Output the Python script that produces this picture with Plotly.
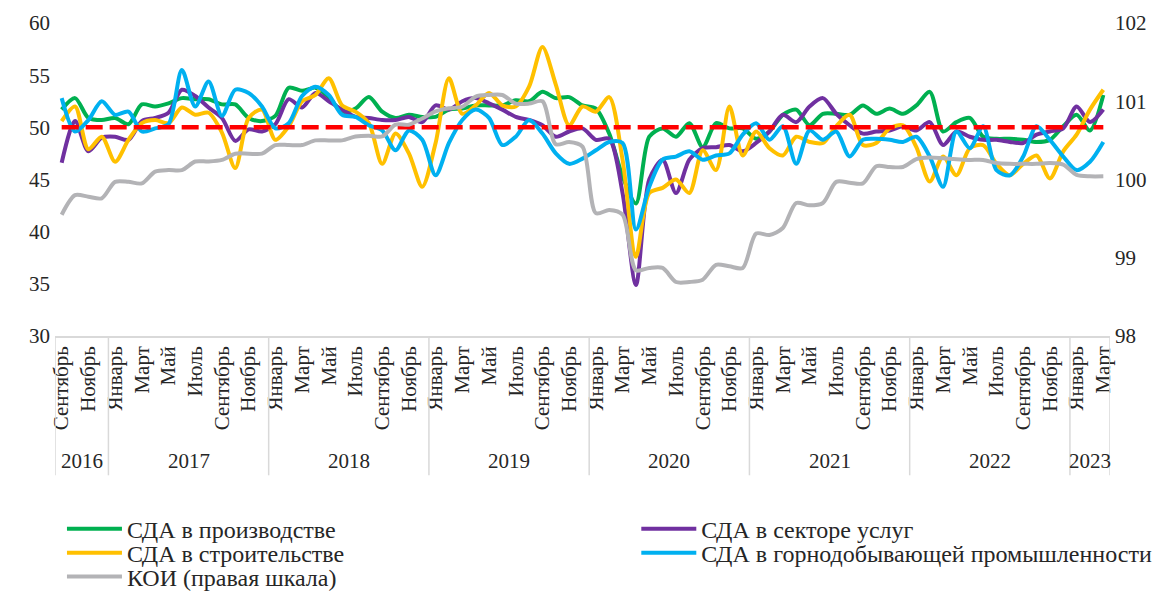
import plotly.graph_objects as go

# ---- categories ----
month_names = ["Январь", "Февраль", "Март", "Апрель", "Май", "Июнь",
               "Июль", "Август", "Сентябрь", "Октябрь", "Ноябрь", "Декабрь"]
start_year, start_month = 2016, 9
end_year, end_month = 2023, 3

years = []
months = []
y_, m_ = start_year, start_month
while (y_, m_) <= (end_year, end_month):
    years.append(y_)
    months.append(month_names[m_ - 1])
    m_ += 1
    if m_ > 12:
        m_ = 1
        y_ += 1
x_idx = list(range(len(months)))

# ---- series values ----
pmi_manufacturing = [
    51.7, 52.8, 50.9, 50.7, 50.9, 50.3, 52.2, 52.0, 52.3, 52.8, 52.7, 52.7,
    52.2, 52.2, 50.9, 50.6, 51.1, 53.8, 53.5, 53.8, 52.9, 51.5, 51.8, 52.9,
    51.5, 50.9, 51.2, 51.0, 51.0, 51.7, 51.8, 52.1, 52.1, 52.1, 52.6, 52.5,
    53.4, 52.8, 52.9, 52.1, 51.8, 49.4, 45.3, 42.7, 49.1, 49.9, 49.1, 50.4,
    48.1, 50.4, 49.9, 49.9, 48.9, 49.6, 51.2, 51.7, 50.2, 51.3, 51.3, 51.2,
    52.1, 51.3, 51.8, 51.3, 52.1, 53.4, 49.6, 50.5, 50.9, 49.1, 48.9, 48.9,
    48.8, 48.6, 48.8, 50.1, 51.2, 49.7, 53.1]
pmi_services = [
    46.6, 50.6, 47.7, 49.0, 49.1, 48.8, 50.6, 50.9, 51.4, 53.6, 53.0, 51.9,
    50.9, 48.7, 49.8, 49.6, 50.3, 52.7, 51.9, 53.3, 52.5, 51.7, 51.0, 50.9,
    50.7, 50.7, 51.0, 50.5, 52.1, 51.7, 52.5, 52.8, 52.3, 51.7, 51.0, 50.7,
    50.2, 49.1, 49.6, 49.9, 48.8, 48.9, 43.7, 34.9, 45.0, 46.9, 43.7, 46.9,
    48.0, 48.1, 48.3, 47.7, 48.5, 49.6, 51.2, 50.5, 52.0, 52.8, 51.3, 50.2,
    49.4, 49.6, 49.7, 50.1, 49.7, 50.5, 48.3, 49.6, 49.1, 48.8, 48.8, 48.6,
    48.5, 49.3, 49.6, 49.9, 52.0, 50.5, 51.7]
pmi_construction = [
    50.6, 52.0, 47.9, 49.1, 46.7, 48.8, 50.4, 50.7, 50.4, 51.9, 51.2, 51.4,
    49.5, 46.1, 50.9, 51.7, 48.8, 50.1, 52.5, 53.1, 54.7, 52.1, 51.5, 50.4,
    46.5, 49.4, 47.5, 44.3, 48.5, 54.7, 51.3, 52.1, 53.3, 52.1, 52.0, 53.9,
    57.7, 54.1, 50.2, 52.0, 51.5, 52.9, 46.9, 37.6, 43.7, 44.2, 45.0, 43.7,
    47.8, 45.9, 52.0, 47.3, 49.6, 48.0, 47.3, 49.1, 48.6, 48.5, 50.1, 51.2,
    48.3, 48.5, 49.9, 50.2, 48.1, 44.8, 47.2, 45.4, 48.0, 48.3, 46.5, 45.4,
    46.5, 47.3, 45.1, 47.7, 49.3, 51.7, 53.6]
pmi_mining = [
    52.8, 49.6, 50.7, 52.5, 51.2, 51.5, 49.6, 49.9, 50.3, 55.5, 52.0, 54.4,
    51.1, 53.6, 53.3, 52.0, 49.9, 50.4, 53.0, 53.9, 53.1, 51.2, 51.0, 50.2,
    49.7, 47.8, 49.7, 48.8, 45.4, 48.5, 50.7, 51.7, 50.9, 48.3, 49.1, 50.7,
    49.4, 47.5, 46.5, 47.0, 47.8, 48.6, 48.5, 40.2, 44.3, 46.9, 47.2, 47.7,
    46.9, 47.3, 47.5, 49.3, 50.4, 48.8, 50.1, 46.5, 49.7, 48.8, 49.6, 47.2,
    48.8, 48.9, 48.8, 48.6, 49.1, 47.2, 44.3, 49.6, 48.0, 50.1, 45.9, 45.4,
    47.2, 50.1, 48.8, 47.2, 45.9, 46.7, 48.6]
koi_right = [
    99.55, 99.80, 99.78, 99.76, 99.97, 99.97, 99.95, 100.10, 100.12, 100.12,
    100.23, 100.23, 100.25, 100.33, 100.33, 100.33, 100.44, 100.44, 100.44,
    100.50, 100.50, 100.50, 100.55, 100.56, 100.55, 100.70, 100.70, 100.78,
    100.87, 100.91, 100.93, 101.06, 101.08, 101.08, 100.97, 100.97, 101.00,
    100.45, 100.48, 100.42, 99.57, 99.61, 99.55, 98.84, 98.87, 98.87, 98.69,
    98.69, 98.72, 98.91, 98.89, 98.87, 99.31, 99.29, 99.38, 99.70, 99.67,
    99.70, 99.97, 99.96, 99.95, 100.17, 100.16, 100.16, 100.26, 100.28,
    100.27, 100.26, 100.25, 100.25, 100.21, 100.20, 100.20, 100.20, 100.21,
    100.19, 100.06, 100.04, 100.04]
threshold_level = 50

# ---- tick labels (every other month) ----
tick_vals = x_idx[::2]
tick_text = months[::2]

names = ["СДА в производстве", "СДА в секторе услуг", "СДА в строительстве",
         "СДА в горнодобывающей промышленности", "КОИ (правая шкала)"]
colors = ["#00B050", "#7030A0", "#FFC000", "#00B0F0", "#B3B3B6"]

FONT = "Liberation Serif"
TXT = "#262626"
fig = go.Figure()

primary = [pmi_manufacturing, pmi_services, pmi_construction, pmi_mining]
legend_ids = ["legend", "legend2", "legend3", "legend4", "legend5"]
for vals, nm, col, lg in zip(primary, names[:4], colors[:4], legend_ids[:4]):
    fig.add_trace(go.Scatter(x=x_idx, y=vals, mode="lines", name=nm,
                             line=dict(color=col, width=4, shape="spline", smoothing=0.8),
                             legend=lg, yaxis="y"))

fig.add_trace(go.Scatter(x=x_idx, y=[threshold_level] * len(x_idx), mode="lines",
                         line=dict(color="#FF0000", width=4.5, dash="17px,7px"),
                         showlegend=False, hoverinfo="skip", yaxis="y"))

fig.add_trace(go.Scatter(x=x_idx, y=koi_right, mode="lines", name=names[4],
                         line=dict(color=colors[4], width=4, shape="spline", smoothing=0.8),
                         legend="legend5", yaxis="y2"))

# ---- year group dividers and labels ----
shapes = []
annotations = []
bounds = [0]
for i in range(1, len(years)):
    if years[i] != years[i - 1]:
        bounds.append(i)
bounds.append(len(years))
for b in bounds:
    shapes.append(dict(type="line", xref="x", yref="paper", x0=b - 0.5, x1=b - 0.5,
                       y0=0, y1=-0.445, line=dict(color="#D9D9D9", width=1.5)))
for a, b in zip(bounds[:-1], bounds[1:]):
    annotations.append(dict(x=(a + b - 1) / 2, y=-0.40, xref="x", yref="paper",
                            text=str(years[a]), showarrow=False,
                            font=dict(family=FONT, size=21, color=TXT),
                            yanchor="middle", xanchor="center"))

# ---- legends: two columns ----
col_x = [0.0066, 0.551]
row_y = [-0.617, -0.694, -0.770]
leg_pos = [(col_x[0], row_y[0]), (col_x[1], row_y[0]), (col_x[0], row_y[1]),
           (col_x[1], row_y[1]), (col_x[0], row_y[2])]
legend_font = dict(family=FONT, size=24, color=TXT)
leg_kwargs = {}
for lg, (lx, ly) in zip(legend_ids, leg_pos):
    leg_kwargs[lg] = dict(x=lx, y=ly, xanchor="left", yanchor="middle",
                          font=legend_font, bgcolor="rgba(0,0,0,0)",
                          itemwidth=55, borderwidth=0)

fig.update_layout(
    width=1169, height=591,
    margin=dict(l=47, r=67, t=15, b=263, autoexpand=False),
    plot_bgcolor="white", paper_bgcolor="white",
    font=dict(family=FONT, size=21, color=TXT),
    showlegend=True,
    shapes=shapes, annotations=annotations,
    xaxis=dict(range=[-0.5, len(x_idx) - 0.5], tickmode="array", tickvals=tick_vals,
               ticktext=tick_text, tickangle=-90, showline=True, linecolor="#D9D9D9",
               linewidth=1.5, showgrid=False, zeroline=False, ticks="",
               automargin=False,
               tickfont=dict(family=FONT, size=21, color=TXT)),
    yaxis=dict(range=[30, 60], dtick=5, showgrid=False, zeroline=False, showline=False,
               ticks="", automargin=False, ticklabelstandoff=4,
               tickfont=dict(family=FONT, size=21, color=TXT)),
    yaxis2=dict(range=[98, 102], dtick=1, overlaying="y", side="right", showgrid=False,
                zeroline=False, showline=False, ticks="", automargin=False,
                ticklabelstandoff=4,
                tickfont=dict(family=FONT, size=21, color=TXT)),
    **leg_kwargs,
)

fig.write_html("out.html")
